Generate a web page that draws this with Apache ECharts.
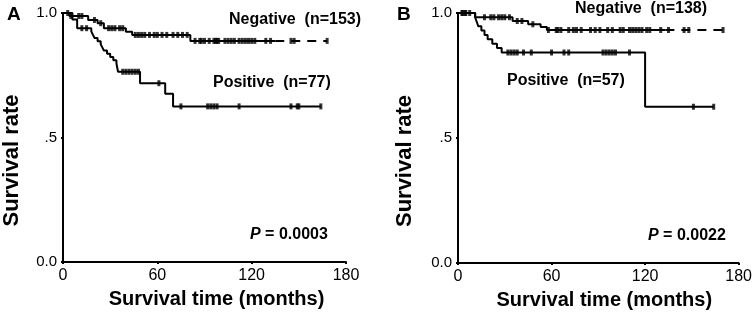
<!DOCTYPE html>
<html>
<head>
<meta charset="utf-8">
<script src="https://cdn.jsdelivr.net/npm/echarts@6/dist/echarts.min.js"></script>
<style>
  html, body { margin: 0; padding: 0; background: #fff; }
  #main { width: 755px; height: 321px; }
</style>
</head>
<body>
<div id="main"></div>
<script>
// Kaplan-Meier data: [month, survival after that month]
var xTicks = [0, 60, 120, 180];
var yTicks = [0, 0.5, 1];

// panel A
var negA_steps = [[0, 1], [4, 0.988], [16, 0.972], [22, 0.959], [26, 0.939], [40, 0.925], [44, 0.912], [81, 0.888]];
var negA_end = 168;
var negA_dashFrom = 135;
var negA_censor = [5, 10, 12, 20, 24, 29, 31, 33, 36, 38, 46, 48, 50, 52, 55, 58, 60, 63, 66, 70, 73, 76, 79,
  84, 87, 88, 90, 93, 96, 97, 98, 99, 103, 105, 107, 109, 112, 114, 116, 118, 120, 122, 129, 132, 145, 147, 168];
var posA_steps = [[0, 1], [6, 0.974], [9, 0.939], [18, 0.926], [19, 0.913], [20, 0.9], [22, 0.887], [24, 0.874],
  [25, 0.862], [26, 0.849], [28, 0.836], [30, 0.823], [32, 0.81], [34, 0.797], [35, 0.764], [49, 0.718], [65, 0.676], [70, 0.625]];
var posA_end = 164;
var posA_censor = [3, 12, 15, 38, 40, 42, 44, 46, 48, 61, 75, 92, 94, 96, 98, 112, 145, 149, 150, 164];

// panel B
var negB_steps = [[0, 1], [11, 0.983], [35, 0.968], [45, 0.955], [53, 0.944], [57, 0.932]];
var negB_end = 170;
var negB_dashFrom = 133;
var negB_censor = [2.5, 4.5, 7.5, 17, 21, 23, 26, 28, 30, 33, 38, 41, 48, 58, 63, 64, 66, 71, 74, 76, 79,
  85, 88, 91, 96, 99, 104, 106, 110, 112, 114, 116, 118, 121, 123, 130, 135, 145, 148, 170];
var posB_steps = [[0, 1], [11, 0.982], [12, 0.965], [13, 0.947], [15, 0.93], [17, 0.912], [19, 0.895], [22, 0.877],
  [25, 0.86], [28, 0.842], [120, 0.625]];
var posB_end = 164;
var posB_censor = [3, 5, 32, 34, 36, 38, 42, 47, 60, 68, 71, 93, 95, 97, 99, 101, 110, 151, 164];

var FONT = '"Liberation Sans", Arial, sans-serif';

function survAt(steps, t) {
  var v = 1;
  for (var i = 0; i < steps.length; i++) {
    if (steps[i][0] <= t) v = steps[i][1];
  }
  return v;
}
// solid part of the curve, up to "until"
function curve(steps, until) {
  var d = steps.filter(function (p) { return p[0] <= until; }).slice();
  d.push([until, survAt(steps, until)]);
  return d;
}
function censorPts(steps, times) {
  return times.map(function (t) { return [t, survAt(steps, t)]; });
}

function lineSeries(idx, data, dashed) {
  return {
    type: 'line', xAxisIndex: idx, yAxisIndex: idx, data: data,
    step: 'end', showSymbol: false, silent: true,
    lineStyle: { color: '#000', width: 2, type: dashed ? [9, 7] : 'solid' }
  };
}
function censorSeries(idx, data) {
  return {
    type: 'scatter', xAxisIndex: idx, yAxisIndex: idx, data: data,
    symbol: 'rect', symbolSize: [3, 6], silent: true,
    itemStyle: { color: '#000' }
  };
}

function xAxisOf(idx, shift) {
  return {
    type: 'value', gridIndex: idx, min: xTicks[0], max: xTicks[xTicks.length - 1], interval: 60,
    name: 'Survival time (months)', nameLocation: 'middle', nameGap: 27,
    nameTextStyle: { fontFamily: FONT, fontWeight: 'bold', fontSize: 20, color: '#000', padding: [0, 0, 0, shift] },
    axisLine: { lineStyle: { color: '#000', width: 2 } },
    axisTick: { show: true, length: 2, lineStyle: { color: '#000', width: 2 } },
    axisLabel: { color: '#000', fontFamily: FONT, fontSize: 16, margin: 6 },
    splitLine: { show: false }
  };
}
function yAxisOf(idx, gap) {
  return {
    type: 'value', gridIndex: idx, min: yTicks[0], max: yTicks[yTicks.length - 1], interval: 0.5,
    name: 'Survival rate', nameLocation: 'middle', nameGap: gap,
    // right padding pushes the rotated title down, as in the picture
    nameTextStyle: { fontFamily: FONT, fontWeight: 'bold', fontSize: 22, color: '#000', padding: [0, 46, 0, 0] },
    axisLine: { show: true, lineStyle: { color: '#000', width: 2 } },
    axisTick: { show: true, length: 2, lineStyle: { color: '#000', width: 2 } },
    axisLabel: {
      color: '#000', fontFamily: FONT, fontSize: 15, margin: 6,
      formatter: function (v) { return v === 1 ? '1.0' : v === 0 ? '0.0' : '.5'; }
    },
    splitLine: { show: false }
  };
}

function label(x, y, text, size) {
  return {
    type: 'text', x: x, y: y, silent: true,
    style: {
      text: text, fill: '#000', font: 'bold ' + (size || 16) + 'px ' + FONT,
      textVerticalAlign: 'middle'
    }
  };
}
function pLabel(x, y, val) {
  return {
    type: 'text', x: x, y: y, silent: true,
    style: {
      text: '{i|P} = ' + val, fill: '#000', font: 'bold 16px ' + FONT, textVerticalAlign: 'middle',
      rich: { i: { fontStyle: 'italic', fontWeight: 'bold', fontSize: 16, fontFamily: FONT } }
    }
  };
}

var chart = echarts.init(document.getElementById('main'), null, { renderer: 'canvas' });
var option = {
  backgroundColor: '#fff',
  animation: false,
  grid: [
    { left: 60, top: 13, width: 286, height: 249 },
    { left: 458, top: 13, width: 285, height: 250 }
  ],
  xAxis: [xAxisOf(0, 24), xAxisOf(1, 12)],
  yAxis: [yAxisOf(0, 40), yAxisOf(1, 42)],
  series: [
    lineSeries(0, curve(negA_steps, negA_dashFrom), false),
    lineSeries(0, [[negA_dashFrom, survAt(negA_steps, negA_dashFrom)], [negA_end, survAt(negA_steps, negA_end)]], true),
    censorSeries(0, censorPts(negA_steps, negA_censor)),
    lineSeries(0, curve(posA_steps, posA_end), false),
    censorSeries(0, censorPts(posA_steps, posA_censor)),

    lineSeries(1, curve(negB_steps, negB_dashFrom), false),
    lineSeries(1, [[negB_dashFrom, survAt(negB_steps, negB_dashFrom)], [negB_end, survAt(negB_steps, negB_end)]], true),
    censorSeries(1, censorPts(negB_steps, negB_censor)),
    lineSeries(1, curve(posB_steps, posB_end), false),
    censorSeries(1, censorPts(posB_steps, posB_censor))
  ],
  graphic: [
    label(7, 15, 'A', 19),
    label(397, 15, 'B', 19),
    label(229, 20, 'Negative  (n=153)'),
    label(213, 83, 'Positive  (n=77)'),
    pLabel(250, 235, '0.0003'),
    label(575, 9, 'Negative  (n=138)'),
    label(507, 81, 'Positive  (n=57)'),
    pLabel(648, 236, '0.0022')
  ]
};
chart.setOption(option);
window.addEventListener('resize', function () { chart.resize(); });
</script>
</body>
</html>
